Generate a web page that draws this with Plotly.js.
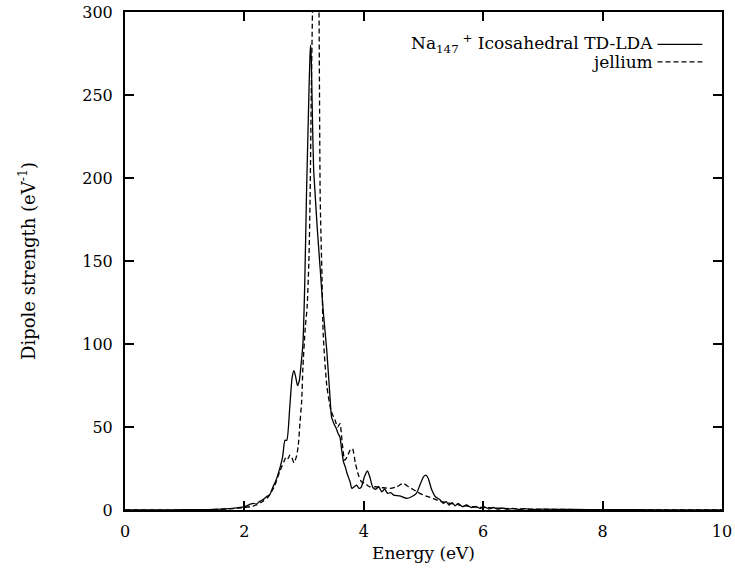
<!DOCTYPE html>
<html>
<head>
<meta charset="utf-8">
<script src="https://cdn.plot.ly/plotly-3.0.1.min.js"></script>
<style>html,body{margin:0;padding:0;background:#fff;}#chart{width:735px;height:573px;}</style>
</head>
<body>
<div id="chart"></div>
<script>
// TD-LDA (solid)
var ldaEnergy = [0, 0.5, 1.0, 1.5, 1.8, 2.0, 2.1, 2.15, 2.2, 2.25, 2.3, 2.37, 2.42, 2.48, 2.53, 2.6, 2.64, 2.68, 2.71, 2.76, 2.8, 2.83, 2.86, 2.89, 2.92, 2.95, 2.98, 3.01, 3.04, 3.06, 3.08, 3.10, 3.11, 3.12, 3.14, 3.16, 3.18, 3.22, 3.27, 3.32, 3.38, 3.43, 3.46, 3.50, 3.54, 3.57, 3.60, 3.63, 3.66, 3.69, 3.72, 3.77, 3.80, 3.84, 3.88, 3.92, 3.96, 4.01, 4.06, 4.10, 4.15, 4.2, 4.25, 4.3, 4.35, 4.4, 4.45, 4.5, 4.6, 4.72, 4.8, 4.88, 4.95, 5.0, 5.04, 5.08, 5.13, 5.2, 5.28, 5.33, 5.38, 5.43, 5.48, 5.53, 5.58, 5.65, 5.72, 5.8, 5.87, 5.95, 6.02, 6.1, 6.17, 6.25, 6.32, 6.4, 6.5, 6.6, 6.7, 6.8, 7.0, 7.5, 8.0, 9.0, 10.0];
var ldaStrength = [0, 0, 0.2, 0.4, 1, 2, 3.5, 4, 3.5, 5, 6, 8, 9, 14, 18, 26, 32, 42, 42, 62, 80, 84, 80, 75, 78, 88, 100, 135, 190, 220, 250, 275, 280, 272, 235, 205, 193, 170, 145, 120, 96, 70, 56, 52, 49, 46, 44, 36, 29, 26, 22, 17, 13, 14, 15, 13, 14, 20, 23.5, 20, 13.7, 12.5, 14, 11, 12.5, 10, 10.5, 9, 8.5, 7, 8, 10, 16, 20, 21, 19, 13, 8, 6, 4, 5, 3, 4.5, 2.5, 4, 2, 3, 1.5, 2.2, 1, 1.8, 0.6, 1.5, 0.5, 1.2, 0.4, 1, 0.3, 0.8, 0.3, 0.5, 0.3, 0.2, 0.1, 0];

// jellium (dashed)
var jelEnergy = [0, 1.0, 1.5, 1.8, 2.0, 2.1, 2.2, 2.3, 2.4, 2.5, 2.6, 2.66, 2.70, 2.73, 2.76, 2.79, 2.83, 2.87, 2.90, 2.93, 2.96, 2.98, 3.02, 3.05, 3.08, 3.10, 3.12, 3.14, 3.17, 3.20, 3.23, 3.25, 3.27, 3.30, 3.32, 3.38, 3.45, 3.52, 3.56, 3.60, 3.64, 3.68, 3.72, 3.77, 3.81, 3.86, 3.91, 3.96, 4.02, 4.10, 4.20, 4.30, 4.44, 4.55, 4.66, 4.75, 4.89, 5.0, 5.16, 5.3, 5.45, 5.6, 5.8, 6.0, 6.5, 7.0, 8.0, 9.0, 10.0];
var jelStrength = [0, 0, 0.3, 0.8, 1.5, 2, 3, 5, 8, 14, 24, 29, 32, 31, 33, 32, 28.5, 32, 38, 52, 66, 86, 110, 122, 150, 187, 250, 300, 380, 420, 370, 300, 187, 140, 106, 75, 60, 54, 50, 52, 40, 30, 32, 36, 37, 28, 21, 17, 16, 14, 14, 13.5, 13, 14, 16, 14, 11, 9, 7, 5, 4, 3, 2, 1.5, 0.8, 0.4, 0.2, 0.1, 0];

var xTicks = [0, 2, 4, 6, 8, 10];
var yTicks = [0, 50, 100, 150, 200, 250, 300];

var FONT = 'DejaVu Serif';
var FS = 16;

var traces = [
  {x: ldaEnergy, y: ldaStrength, mode: 'lines', name: 'TD-LDA',
   line: {color: '#000', width: 1.3, shape: 'spline', smoothing: 0.6}},
  {x: jelEnergy, y: jelStrength, mode: 'lines', name: 'jellium',
   line: {color: '#000', width: 1.3, dash: '5px,3px', shape: 'spline', smoothing: 0.6}}
];

var axisCommon = {
  showgrid: false, zeroline: false, showline: true, linecolor: '#000', linewidth: 2,
  mirror: 'ticks', ticks: 'inside', ticklen: 9, tickwidth: 2, tickcolor: '#000',
  tickfont: {family: FONT, size: FS, color: '#000'}
};

var layout = {
  width: 735, height: 573,
  margin: {l: 125, r: 13, t: 12, b: 63},
  paper_bgcolor: '#fff', plot_bgcolor: '#fff',
  showlegend: false,
  font: {family: FONT, color: '#000'},
  xaxis: Object.assign({}, axisCommon, {
    range: [0, 10], tickvals: xTicks, ticktext: xTicks.map(String),
    ticklabelstandoff: 6,
    title: {text: 'Energy (eV)', font: {family: FONT, size: 17, color: '#000'}, standoff: 7}
  }),
  yaxis: Object.assign({}, axisCommon, {
    range: [0, 300], tickvals: yTicks, ticktext: yTicks.map(String),
    ticklabelstandoff: 7,
    title: {text: 'Dipole strength (eV<sup>-1</sup>)', font: {family: FONT, size: 18, color: '#000'}, standoff: 42}
  }),
  annotations: [
    {xref: 'paper', yref: 'paper', x: 0.887, y: 0.937, xanchor: 'right', yanchor: 'middle', showarrow: false,
     text: 'Na<sub>147</sub><sup> +</sup> Icosahedral TD-LDA', font: {family: FONT, size: 17, color: '#000'}},
    {xref: 'paper', yref: 'paper', x: 0.887, y: 0.9, xanchor: 'right', yanchor: 'middle', showarrow: false,
     text: 'jellium', font: {family: FONT, size: 17, color: '#000'}}
  ],
  shapes: [
    {type: 'line', xref: 'paper', yref: 'paper', x0: 0.892, x1: 0.967, y0: 0.935, y1: 0.935,
     line: {color: '#000', width: 1.3}},
    {type: 'line', xref: 'paper', yref: 'paper', x0: 0.892, x1: 0.967, y0: 0.9, y1: 0.9,
     line: {color: '#000', width: 1.3, dash: '5px,3px'}}
  ]
};

Plotly.newPlot('chart', traces, layout, {displayModeBar: false, staticPlot: true});
</script>
</body>
</html>
